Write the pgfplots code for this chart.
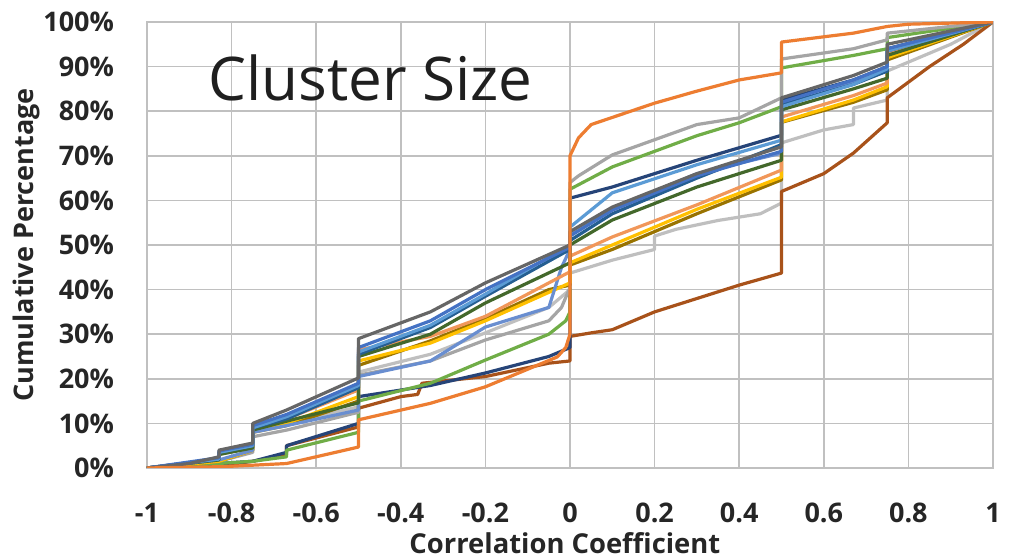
\documentclass[border=0pt]{standalone}
\usepackage{pgfplots}
\pgfplotsset{compat=1.18}
\usepackage{fontspec}
\setmainfont{Open Sans}
\definecolor{gridgray}{HTML}{C0C0C0}
\definecolor{cOrange}{HTML}{ED7D31}
\definecolor{cGray}{HTML}{A5A5A5}
\definecolor{cGreen}{HTML}{70AD47}
\definecolor{cDarkBlue}{HTML}{264478}
\definecolor{cBrown}{HTML}{A8521A}
\definecolor{cLightGray}{HTML}{BFBFBF}
\definecolor{cDarkGray}{HTML}{666666}
\definecolor{cBlue}{HTML}{4472C4}
\definecolor{cLightBlue}{HTML}{5B9BD5}
\definecolor{cDarkGreen}{HTML}{43682B}
\definecolor{cGold}{HTML}{FFC000}
\definecolor{cDarkGold}{HTML}{997300}
\definecolor{cMidBlue}{HTML}{255E91}
\definecolor{cLBlue2}{HTML}{698ED0}
\definecolor{cLOrange}{HTML}{F1975A}
\begin{document}
\begin{tikzpicture}
\path[use as bounding box] (-73.5pt,-46pt) rectangle (433.5pt,234pt);
\clip (-73.5pt,-46pt) rectangle (433.5pt,234pt);
\begin{axis}[
  scale only axis, width=423pt, height=223pt,
  xmin=-1, xmax=1, ymin=0, ymax=100,
  xtick={-1,-0.8,-0.6,-0.4,-0.2,0,0.2,0.4,0.6,0.8,1},
  xticklabels={-1,-0.8,-0.6,-0.4,-0.2,0,0.2,0.4,0.6,0.8,1},
  ytick={0,10,20,30,40,50,60,70,80,90,100},
  yticklabels={0\%,10\%,20\%,30\%,40\%,50\%,60\%,70\%,80\%,90\%,100\%},
  grid=major, grid style={color=gridgray, line width=0.8pt},
  axis line style={color=gridgray, line width=0.8pt},
  major tick length=0pt,
  tick label style={font=\bfseries\fontsize{13.5}{16}\selectfont, color=black!85},
  xticklabel style={yshift=-14pt},
  yticklabel style={xshift=-13pt},
  xlabel={Correlation Coefficient},
  xlabel style={at={(axis description cs:0.494,0)}, anchor=north, yshift=-28.5pt, font=\bfseries\fontsize{13.7}{16}\selectfont, color=black!85},
  ylabel={Cumulative Percentage},
  ylabel style={at={(axis description cs:-0.142,0.5)}, anchor=center, font=\bfseries\fontsize{13.5}{16}\selectfont, color=black!85},
  every axis plot/.append style={line width=1.6pt, line join=round, no markers},
]
% light gray (low middle on positive side)
\addplot[cLightGray] coordinates {(-1,0)(-0.83,2)(-0.83,3.5)(-0.75,4.5)(-0.75,8.5)(-0.67,10)(-0.5,13.7)(-0.5,21.5)(-0.33,25.5)(-0.2,30.3)(-0.05,36)(0,40)(0,43.7)(0.1,46.6)(0.2,49)(0.2,52)(0.25,53.5)(0.35,55.5)(0.45,57)(0.5,59.4)(0.5,72.9)(0.6,75.8)(0.67,77)(0.67,80.7)(0.75,82.5)(0.75,89)(0.9,95)(1,100)};
% brown
\addplot[cBrown] coordinates {(-1,0)(-0.83,0.5)(-0.75,1.5)(-0.67,3)(-0.67,5)(-0.5,9.2)(-0.5,13.4)(-0.4,16)(-0.36,16.5)(-0.35,19)(-0.2,20.5)(-0.05,23.5)(0,24)(0,29.5)(0.05,30.3)(0.1,31)(0.2,35)(0.3,38)(0.4,41)(0.5,43.7)(0.5,62)(0.6,66)(0.67,70.6)(0.75,77.4)(0.75,83)(0.85,90)(0.93,95)(1,100)};
% dark blue (lower before 0)
\addplot[cDarkBlue] coordinates {(-1,0)(-0.75,1.5)(-0.67,3.5)(-0.67,5)(-0.5,10)(-0.5,16)(-0.33,18.5)(-0.2,21.3)(-0.05,25)(0,27)(0,60.5)(0.1,63)(0.3,69)(0.5,74.6)(0.5,82.5)(0.67,87)(0.75,90)(0.75,94)(1,100)};
% green
\addplot[cGreen] coordinates {(-1,0)(-0.75,1.5)(-0.67,2.5)(-0.67,4)(-0.5,8)(-0.5,15)(-0.33,19)(-0.2,24.2)(-0.05,30)(-0.01,33)(0,35)(0,62.5)(0.1,67.5)(0.3,74.5)(0.4,77.4)(0.5,81)(0.5,89.7)(0.67,92.5)(0.75,94)(0.75,96.5)(1,100)};
% gray (high on positive side)
\addplot[cGray] coordinates {(-1,0)(-0.83,1.5)(-0.75,3.5)(-0.75,7)(-0.67,8.5)(-0.5,12.5)(-0.5,20.8)(-0.33,24)(-0.2,28.7)(-0.05,33)(-0.02,36)(0,40.5)(0,64)(0.02,65.5)(0.1,70.2)(0.3,77)(0.4,78.5)(0.5,83)(0.5,91.7)(0.67,94)(0.75,96)(0.75,97.5)(1,100)};
% dark gold
\addplot[cDarkGold] coordinates {(-1,0)(-0.83,1.5)(-0.75,4)(-0.75,8)(-0.67,9.5)(-0.5,15)(-0.5,23)(-0.33,28.5)(-0.2,33.5)(-0.05,40)(0,41)(0,45.5)(0.1,49)(0.3,57)(0.5,64.6)(0.5,77.5)(0.67,82)(0.75,84.8)(0.75,91.5)(1,100)};
% gold
\addplot[cGold] coordinates {(-1,0)(-0.83,1.5)(-0.75,4)(-0.75,8)(-0.67,10)(-0.5,16)(-0.5,24)(-0.33,28)(-0.2,33)(0,41.5)(0,46)(0.1,50)(0.3,58)(0.5,65.2)(0.5,77.6)(0.67,82.5)(0.75,85.5)(0.75,92)(1,100)};
% light blue 2
\addplot[cLBlue2] coordinates {(-1,0)(-0.83,1.8)(-0.75,4)(-0.75,8)(-0.67,9.5)(-0.5,13)(-0.5,20.5)(-0.33,24)(-0.2,31.6)(-0.05,36)(-0.02,45)(0,49)(0,52.5)(0.1,58)(0.3,66)(0.5,70.6)(0.5,81)(0.75,89)(0.75,93)(1,100)};
% light orange
\addplot[cLOrange] coordinates {(-1,0)(-0.83,2)(-0.83,3.5)(-0.75,5)(-0.75,9)(-0.67,11)(-0.5,17.5)(-0.5,26.5)(-0.33,29.5)(-0.2,34)(0,44)(0,47.5)(0.1,51.8)(0.3,59)(0.5,66.8)(0.5,78.7)(0.67,83.5)(0.75,86.3)(0.75,93)(1,100)};
% dark green
\addplot[cDarkGreen] coordinates {(-1,0)(-0.83,1.8)(-0.83,3)(-0.75,4.5)(-0.75,8.5)(-0.67,10.5)(-0.5,14.6)(-0.5,25)(-0.33,30)(-0.2,37)(0,46)(0,50)(0.1,55.6)(0.3,63)(0.5,69)(0.5,80.3)(0.67,85)(0.75,87.4)(0.75,92.5)(1,100)};
% mid blue
\addplot[cMidBlue] coordinates {(-1,0)(-0.83,2)(-0.83,3.5)(-0.75,5)(-0.75,9)(-0.67,11)(-0.5,18)(-0.5,25.5)(-0.33,31.5)(-0.2,38.5)(0,49)(0,51)(0.1,57)(0.3,65)(0.5,72.5)(0.5,81.5)(0.67,86)(0.75,89)(0.75,93.5)(1,100)};
% light blue
\addplot[cLightBlue] coordinates {(-1,0)(-0.83,2)(-0.83,3.5)(-0.75,5)(-0.75,9)(-0.67,11.5)(-0.5,18.5)(-0.5,26)(-0.33,32)(-0.2,39)(0,50)(0,54)(0.1,61.7)(0.3,68)(0.5,73.5)(0.5,81)(0.67,86)(0.75,89.5)(0.75,93.5)(1,100)};
% blue
\addplot[cBlue] coordinates {(-1,0)(-0.83,2.3)(-0.83,3.8)(-0.75,5.3)(-0.75,9.5)(-0.67,12)(-0.5,19)(-0.5,27)(-0.33,33)(-0.2,40)(0,49.5)(0,52)(0.1,57.8)(0.3,65.5)(0.5,71)(0.5,82)(0.67,87)(0.75,90)(0.75,94)(1,100)};
% dark gray
\addplot[cDarkGray] coordinates {(-1,0)(-0.9,1)(-0.83,2.5)(-0.83,4)(-0.75,5.6)(-0.75,10)(-0.67,13)(-0.5,20.2)(-0.5,29)(-0.33,35)(-0.2,41.5)(0,50)(0,53)(0.1,58.5)(0.3,66)(0.5,72)(0.5,83)(0.67,88)(0.75,91)(0.75,95)(0.9,98)(1,100)};
% orange
\addplot[cOrange] coordinates {(-1,0)(-0.82,0.3)(-0.67,1)(-0.55,3.6)(-0.5,4.7)(-0.5,10.8)(-0.33,14.5)(-0.2,18.2)(-0.03,24.9)(-0.01,27)(0,30)(0,70)(0.02,74)(0.05,77)(0.2,81.8)(0.3,84.5)(0.4,87)(0.5,88.6)(0.5,95.5)(0.67,97.5)(0.75,99)(0.8,99.5)(1,100)};
\node[anchor=west, inner sep=0pt, font=\fontsize{30.1}{36}\selectfont, color=black!88] at (rel axis cs:0.072,0.874) {Cluster Size};
\end{axis}
\end{tikzpicture}
\end{document}
